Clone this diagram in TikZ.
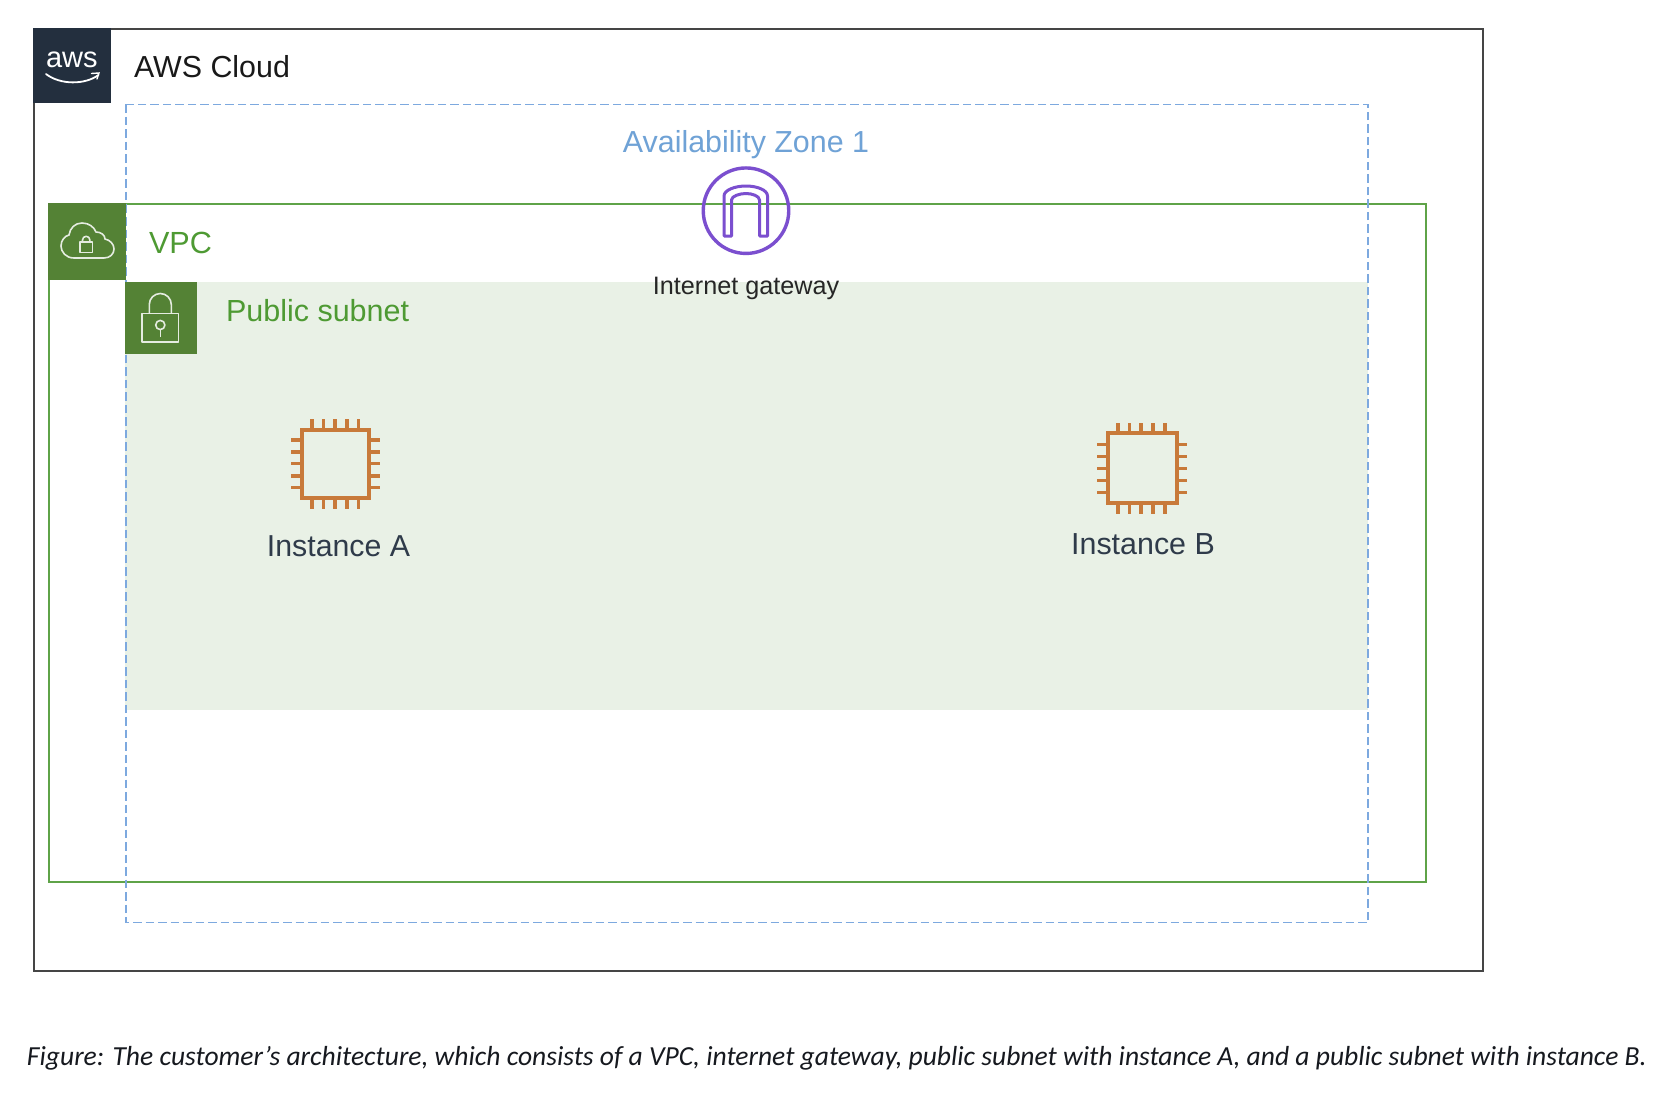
\documentclass[tikz,border=0pt]{standalone}
\usepackage{fontspec}
\setmainfont{Liberation Sans}
\newfontfamily\capfont{Carlito}
\definecolor{awsnavy}{HTML}{232F3E}
\definecolor{cloudline}{HTML}{454545}
\definecolor{vpcline}{HTML}{5FA348}
\definecolor{vpchead}{HTML}{548235}
\definecolor{subfill}{HTML}{E9F1E6}
\definecolor{labgreen}{HTML}{4E9A33}
\definecolor{azline}{HTML}{7DA9DF}
\definecolor{aztext}{HTML}{6FA2D6}
\definecolor{igwpurple}{HTML}{7B4FCF}
\definecolor{chiporange}{HTML}{C87A3A}
\definecolor{instext}{HTML}{2F3B4A}
\definecolor{captext}{HTML}{16191F}
\tikzset{
  x=1pt,y=-1pt,
  lab/.style={anchor=base west,inner sep=0pt,outer sep=0pt},
  labc/.style={anchor=base,inner sep=0pt,outer sep=0pt},
  iconline/.style={draw=white!85!vpchead,line width=1.6pt,line join=round},
  chipline/.style={draw=chiporange,line width=4pt},
  pinline/.style={draw=chiporange,line width=3.6pt},
  archline/.style={draw=igwpurple,line width=3pt,line join=round},
}
\begin{document}
\begin{tikzpicture}
\useasboundingbox (0,0) rectangle (1672,1094);
\fill[white] (0,0) rectangle (1672,1094);
% subnet
\fill[subfill] (125,282) rectangle (1367.5,710);
% cloud
\draw[cloudline,line width=2.2pt] (34,29) rectangle (1483,971);
% vpc
\draw[vpcline,line width=2pt] (49,204) rectangle (1426,882);
% az
\draw[azline,line width=1.7pt,dash pattern=on 8.5pt off 4pt] (126,104.5) rectangle (1368,922.5);
% aws header
\fill[awsnavy] (33,28) rectangle (110.5,103.5);
\node[lab,text=white,font=\fontsize{29}{29}\selectfont] (awslogo) at (46,68) {aws};
\draw[white,line width=1.8pt,line cap=round] (46,74) .. controls (60,85) and (85,85) .. (98.5,75);
\draw[white,line width=1.4pt,line cap=round] (91.5,73.5) -- (99,73) -- (97,79);
\node[lab,text=black!90,font=\fontsize{30.4}{30.4}\selectfont] (cloudlabel) at (134,78) {AWS Cloud};
% vpc header
\fill[vpchead] (48,203) rectangle (125.5,280);
\draw[iconline] (74,258) .. controls (66,258) and (61,252) .. (61,246) .. controls (61,240) and (65,236) .. (69,235)
  .. controls (70,228) and (75,223) .. (82,223) .. controls (89,223) and (94,227) .. (96,232)
  .. controls (101,232) and (105,235) .. (105,239) .. controls (110,240) and (114,244) .. (114,249)
  .. controls (114,254) and (110,258) .. (104,258) -- cycle;
\draw[iconline] (80,242) rectangle (92.5,252.5);
\draw[iconline] (82.5,242) -- (82.5,240) arc (180:360:3.7) -- (89.9,242);
\node[lab,text=labgreen,font=\fontsize{30.6}{30.6}\selectfont] (vpclabel) at (149,253) {VPC};
% subnet header
\fill[vpchead] (125,282) rectangle (197,354);
\draw[iconline] (142,313.5) rectangle (178.5,342);
\draw[iconline] (149.3,313.5) -- (149.3,304.5) arc (180:360:11) -- (171.3,313.5);
\draw[iconline] (160.3,325) circle (4.6);
\draw[iconline] (160.3,329.6) -- (160.3,337);
\node[lab,text=labgreen,font=\fontsize{30.5}{30.5}\selectfont] (subnetlabel) at (226,321.5) {Public subnet};
% az label
\node[labc,text=aztext,font=\fontsize{30.4}{30.4}\selectfont] (azlabel) at (746,153) {Availability Zone 1};
% internet gateway
\node[draw=igwpurple,line width=3.4pt,circle,minimum size=85.5pt,inner sep=0pt,fill=none] (igw) at (746,210.7) {};
\draw[archline] (724,236) -- (724,196) .. controls (724,190) and (735,186) .. (746,186)
  .. controls (757,186) and (767.5,190) .. (767.5,196) -- (767.5,236) -- (759.5,236) -- (759.5,200)
  .. controls (759.5,196) and (752,193.5) .. (746,193.5) .. controls (740,193.5) and (731.5,196) .. (731.5,200)
  -- (731.5,236) -- cycle;
\node[labc,text=black!85,font=\fontsize{25.2}{25.2}\selectfont] (igwlabel) at (746,294) {Internet gateway};
% instance A
\draw[chipline] (302,430) rectangle (369,498);
\foreach \p in {311.7,323.3,335,346.7,358.3} {\draw[pinline] (\p,419) -- (\p,430); \draw[pinline] (\p,498) -- (\p,509);}
\foreach \p in {440,451.7,463.3,475.7,487.3} {\draw[pinline] (291,\p) -- (302,\p); \draw[pinline] (369,\p) -- (380,\p);}
\node[labc,text=instext,font=\fontsize{30.3}{30.3}\selectfont] (insta) at (338.5,556) {Instance A};
% instance B
\draw[chipline] (1108,433) rectangle (1176.5,503);
\foreach \p in {1117.7,1129.3,1141,1152.7,1164.7} {\draw[pinline] (\p,423) -- (\p,433); \draw[pinline] (\p,503) -- (\p,514);}
\foreach \p in {444.3,456.3,468.3,480.3,492.3} {\draw[pinline] (1097,\p) -- (1108,\p); \draw[pinline] (1176.5,\p) -- (1187,\p);}
\node[labc,text=instext,font=\fontsize{30.4}{30.4}\selectfont] (instb) at (1143,554) {Instance B};
% caption
\node[lab,text=captext,font=\capfont\itshape\fontsize{27.55}{27.55}\selectfont] (caption) at (27,1065.5) {Figure: The customer’s architecture, which consists of a VPC, internet gateway, public subnet with instance A, and a public subnet with instance B.};
\end{tikzpicture}
\end{document}
